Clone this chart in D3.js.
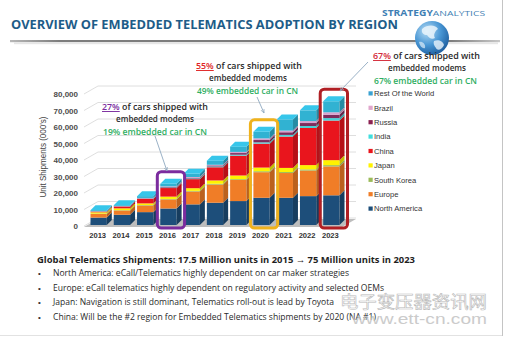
<!DOCTYPE html>
<html>
<head>
<meta charset="utf-8">
<script src="https://cdn.jsdelivr.net/npm/d3@7"></script>
<style>
  body { margin: 0; background: #fff; }
  svg { display: block; }
</style>
</head>
<body>
<svg width="509" height="347"></svg>
<script>
// unit shipments, thousands
const years = ["2013", "2014", "2015", "2016", "2017", "2018", "2019", "2020", "2021", "2022", "2023"];
const regions = ["North America", "Europe", "South Korea", "Japan", "China", "India", "Russia", "Brazil", "Rest Of the World"];
const northAmerica = [4500, 6200, 7800, 10000, 12500, 13500, 14500, 16500, 16500, 17500, 18000];
const europe = [2200, 2600, 4000, 5500, 7800, 11000, 12800, 15500, 15000, 15500, 17500];
const southKorea = [200, 200, 300, 300, 400, 500, 500, 600, 600, 700, 800];
const japan = [800, 1100, 1000, 1400, 1600, 2000, 2200, 2200, 2500, 2600, 3000];
const china = [400, 1100, 2700, 5200, 5500, 8000, 12000, 14500, 19000, 22500, 24000];
const india = [100, 100, 200, 300, 400, 500, 600, 800, 1000, 1200, 1500];
const russia = [100, 100, 200, 400, 500, 600, 1000, 1400, 1600, 1800, 2000];
const brazil = [100, 100, 200, 300, 400, 400, 700, 1000, 1000, 1200, 1500];
const restOfWorld = [600, 500, 1100, 1600, 1900, 2500, 3200, 4000, 6800, 6500, 6700];
const yTicks = [0, 10000, 20000, 30000, 40000, 50000, 60000, 70000, 80000];
const highlights = [
  {year: "2016", color: "#7b2c9e"},
  {year: "2020", color: "#f0b21c"},
  {year: "2023", color: "#b01f24"}
];

const series = [northAmerica, europe, southKorea, japan, china, india, russia, brazil, restOfWorld];
const colors = ["#1d4e7a", "#f07d27", "#9bbb59", "#fff200", "#e9151d", "#48d2d8", "#7c2d5e", "#d8a2cf", "#31b2d2"];
const legendColors = ["#1d4e7a", "#f07d27", "#9bbb59", "#fff200", "#e9151d", "#40dede", "#8b2252", "#e0a6cc", "#3aa2d2"];

const table = years.map((yr, i) => {
  const row = {year: yr};
  regions.forEach((r, k) => row[r] = series[k][i]);
  return row;
});
const stacked = d3.stack().keys(regions)(table);

const svg = d3.select("svg");
const sans = "Liberation Sans, Arial, sans-serif";
const body = "Open Sans, sans-serif";

const x = d3.scaleBand().domain(years).range([87, 343]).paddingInner(0.3).paddingOuter(0.15);
const y = d3.scaleLinear().domain([0, 80000]).range([225, 93]);
const dx = 5, dy = 5;      // bar depth
const wx = 14, wy = 8;     // back wall offset

// frame
svg.append("line").attr("x1", 502.5).attr("x2", 502.5).attr("y1", 0).attr("y2", 336)
  .attr("stroke", "#c4c4c4");
svg.append("line").attr("x1", 0).attr("x2", 502).attr("y1", 335.5).attr("y2", 335.5)
  .attr("stroke", "#e2e2e2");

// header
const defs = svg.append("defs");
const rule = defs.append("linearGradient").attr("id", "rule");
rule.append("stop").attr("offset", "0").attr("stop-color", "#b8b8b8");
rule.append("stop").attr("offset", "0.1").attr("stop-color", "#7d7d7d");
rule.append("stop").attr("offset", "0.9").attr("stop-color", "#7d7d7d");
rule.append("stop").attr("offset", "1").attr("stop-color", "#c8c8c8");
svg.append("rect").attr("x", 10).attr("y", 40).attr("width", 490).attr("height", 2.2)
  .attr("fill", "url(#rule)");
svg.append("rect").attr("x", 14).attr("y", 42.2).attr("width", 484).attr("height", 2)
  .attr("fill", "#e6e6e6");

svg.append("text").attr("x", 11).attr("y", 29)
  .attr("font-family", body).attr("font-weight", 700).attr("font-size", 12.5)
  .attr("fill", "#1d5c88").attr("textLength", 387).attr("lengthAdjust", "spacingAndGlyphs")
  .text("OVERVIEW OF EMBEDDED TELEMATICS ADOPTION BY REGION");

const brand = svg.append("text").attr("x", 382).attr("y", 16)
  .attr("font-family", body).attr("font-size", 8).attr("fill", "#3f7fb4")
  .attr("textLength", 103).attr("lengthAdjust", "spacingAndGlyphs");
brand.append("tspan").attr("font-weight", 700).text("STRATEGY");
brand.append("tspan").attr("font-weight", 400).text("ANALYTICS");

// globe
const globeFill = defs.append("radialGradient").attr("id", "globe").attr("cx", "0.35").attr("cy", "0.3").attr("r", "0.75");
globeFill.append("stop").attr("offset", "0").attr("stop-color", "#b6dcf4");
globeFill.append("stop").attr("offset", "0.55").attr("stop-color", "#4896d4");
globeFill.append("stop").attr("offset", "1").attr("stop-color", "#1d5d9e");
const globe = svg.append("g").attr("transform", "translate(432,38)");
globe.append("circle").attr("r", 17).attr("fill", "url(#globe)");
globe.append("path").attr("d", "M-10,-9 C-4,-14 4,-13 6,-9 C3,-7 1,-3 3,0 C0,2 -3,0 -5,-3 C-8,-3 -11,-5 -10,-9 Z")
  .attr("fill", "#eaf4fb").attr("opacity", 0.85);
globe.append("path").attr("d", "M2,3 C6,1 11,3 12,7 C10,12 5,13 4,10 C2,8 1,5 2,3 Z")
  .attr("fill", "#eaf4fb").attr("opacity", 0.8);
globe.append("path").attr("d", "M-13,4 C-10,3 -6,6 -7,10 C-9,11 -12,9 -13,4 Z")
  .attr("fill", "#eaf4fb").attr("opacity", 0.65);

// back wall gridlines
const grid = svg.append("g");
yTicks.forEach(v => {
  grid.append("path")
    .attr("d", `M84,${y(v) + 1} L${84 + wx},${y(v) + 1 - wy} L356,${y(v) + 1 - wy}`)
    .attr("fill", "none").attr("stroke", "#d6d6d6").attr("stroke-width", 0.8);
});

// floor
svg.append("path")
  .attr("d", `M84,${y(0) + 2} L342,${y(0) + 2} L356,${y(0) + 2 - wy} L98,${y(0) + 2 - wy} Z`)
  .attr("fill", "#bdbdbd");

// y axis
const yAxis = svg.append("g").attr("transform", "translate(78,1)")
  .call(d3.axisLeft(y).tickValues(yTicks).tickSize(0).tickPadding(0).tickFormat(d3.format(",")));
yAxis.select(".domain").remove();
yAxis.selectAll("text").attr("font-family", sans).attr("font-weight", 700)
  .attr("font-size", 8).attr("fill", "#4d4d4d");

svg.append("text").attr("transform", "translate(46,157) rotate(-90)")
  .attr("text-anchor", "middle").attr("font-family", sans).attr("font-size", 9.5)
  .attr("fill", "#444").attr("textLength", 81).attr("lengthAdjust", "spacingAndGlyphs")
  .text("Unit Shipments (000's)");

// x labels
const xAxis = svg.append("g").attr("transform", "translate(-1,233)")
  .call(d3.axisBottom(x).tickSize(0).tickPadding(0));
xAxis.select(".domain").remove();
xAxis.selectAll("text").attr("font-family", sans).attr("font-weight", 700)
  .attr("font-size", 7.6).attr("fill", "#333");

// stacked 3D bars
const bw = x.bandwidth();
const bars = svg.append("g");
stacked.forEach((layer, k) => {
  const c = d3.color(colors[k]);
  layer.forEach((d, i) => {
    const x0 = x(years[i]);
    const yTop = y(d[1]), yBot = y(d[0]);
    const g = bars.append("g");
    g.append("rect").attr("x", x0).attr("y", yTop).attr("width", bw)
      .attr("height", Math.max(0, yBot - yTop)).attr("fill", c);
    g.append("path")
      .attr("d", `M${x0 + bw},${yTop} L${x0 + bw + dx},${yTop - dy} L${x0 + bw + dx},${yBot - dy} L${x0 + bw},${yBot} Z`)
      .attr("fill", c.darker(0.7));
    if (k === regions.length - 1) {
      g.append("path")
        .attr("d", `M${x0},${yTop} L${x0 + dx},${yTop - dy} L${x0 + bw + dx},${yTop - dy} L${x0 + bw},${yTop} Z`)
        .attr("fill", c.brighter(0.3));
    }
  });
});

// highlight frames
highlights.forEach(h => {
  const i = years.indexOf(h.year);
  const total = d3.sum(series, s => s[i]);
  const x0 = x(h.year) - 3;
  const y0 = y(total) - dy - 7;
  svg.append("rect").attr("x", x0).attr("y", y0)
    .attr("width", bw + dx + 6).attr("height", y(0) + 3 - y0)
    .attr("rx", 4).attr("fill", "none").attr("stroke", h.color).attr("stroke-width", 3);
});

// callouts
defs.append("marker").attr("id", "tip").attr("viewBox", "0 0 10 10")
  .attr("refX", 9).attr("refY", 5).attr("markerWidth", 5).attr("markerHeight", 5)
  .attr("orient", "auto")
  .append("path").attr("d", "M0,1 L9,5 L0,9").attr("fill", "none").attr("stroke", "#8ea8c0").attr("stroke-width", 1.5);

const callouts = [
  {pct: "27%", pctColor: "#7b2c9e", cn: "19% embedded car in CN", x: 102, top: 110, w1: 106, w3: 104, mid: 155,
   arrow: [[155, 136], [167, 171]]},
  {pct: "55%", pctColor: "#e02424", cn: "49% embedded car in CN", x: 196, top: 69, w1: 106, w3: 101, mid: 248,
   arrow: [[257, 97], [264, 113]]},
  {pct: "67%", pctColor: "#d42a38", cn: "67% embedded car in CN", x: 373, top: 59, w1: 107, w3: 103, mid: 427,
   arrow: [[368, 62], [340, 91]]}
];
callouts.forEach(c => {
  svg.append("line").attr("x1", c.arrow[0][0]).attr("y1", c.arrow[0][1])
    .attr("x2", c.arrow[1][0]).attr("y2", c.arrow[1][1])
    .attr("stroke", "#8ea8c0").attr("stroke-width", 0.9).attr("marker-end", "url(#tip)");
  const t1 = svg.append("text").attr("x", c.x).attr("y", c.top)
    .attr("font-family", body).attr("font-weight", 600).attr("font-size", 9.5).attr("fill", "#2a2a2a")
    .attr("textLength", c.w1).attr("lengthAdjust", "spacingAndGlyphs");
  t1.append("tspan").attr("fill", c.pctColor).attr("text-decoration", "underline").text(c.pct);
  t1.append("tspan").text(" of cars shipped with");
  svg.append("text").attr("x", c.mid).attr("y", c.top + 12).attr("text-anchor", "middle")
    .attr("font-family", body).attr("font-weight", 600).attr("font-size", 9.5).attr("fill", "#2a2a2a")
    .attr("textLength", 78).attr("lengthAdjust", "spacingAndGlyphs")
    .text("embedded  modems");
  svg.append("text").attr("x", c.x + 1).attr("y", c.top + 24.5)
    .attr("font-family", body).attr("font-weight", 600).attr("font-size", 9).attr("fill", "#2fae62")
    .attr("textLength", c.w3).attr("lengthAdjust", "spacingAndGlyphs")
    .text(c.cn);
});

// legend, top of stack first
const legend = svg.append("g");
regions.slice().reverse().forEach((r, j) => {
  const k = regions.length - 1 - j;
  const cy = 93.5 + j * 14.4;
  legend.append("rect").attr("x", 368.5).attr("y", cy - 2.2).attr("width", 4.2).attr("height", 4.2)
    .attr("fill", legendColors[k]);
  legend.append("text").attr("x", 374).attr("y", cy + 2.7)
    .attr("font-family", sans).attr("font-size", 7.6).attr("fill", "#333").text(r);
});

// notes
svg.append("text").attr("x", 37).attr("y", 262.5)
  .attr("font-family", body).attr("font-weight", 700).attr("font-size", 9.5).attr("fill", "#1f1f1f")
  .attr("textLength", 378).attr("lengthAdjust", "spacingAndGlyphs")
  .text("Global Telematics Shipments: 17.5 Million units in 2015 \u2192 75 Million units in 2023");

const notes = [
  {text: "North America: eCall/Telematics  highly dependent on car maker strategies", w: 296},
  {text: "Europe: eCall telematics highly dependent on regulatory activity and selected OEMs", w: 331},
  {text: "Japan: Navigation is still dominant, Telematics roll-out is lead by Toyota", w: 281},
  {text: "China: Will be the #2 region for  Embedded Telematics shipments by 2020 (NA #1)", w: 323}
];
notes.forEach((n, i) => {
  const by = 276.3 + i * 14.4;
  svg.append("text").attr("x", 38).attr("y", by).attr("font-family", sans)
    .attr("font-size", 8).attr("fill", "#333").text("\u2022");
  svg.append("text").attr("x", 53).attr("y", by)
    .attr("font-family", body).attr("font-size", 8.2).attr("fill", "#2a2a2a")
    .attr("textLength", n.w).attr("lengthAdjust", "spacingAndGlyphs").text(n.text);
});

// site mark
svg.append("text").attr("x", 340).attr("y", 307.5)
  .attr("font-family", "Noto Sans CJK SC, sans-serif").attr("font-size", 17)
  .attr("fill", "none").attr("stroke", "#b9b9b9").attr("stroke-width", 0.6)
  .attr("textLength", 147).attr("lengthAdjust", "spacingAndGlyphs").text("电子变压器资讯网");
svg.append("text").attr("x", 352).attr("y", 324)
  .attr("font-family", sans).attr("font-size", 15.5)
  .attr("fill", "#c6c6c6").attr("opacity", 0.9)
  .attr("textLength", 135).attr("lengthAdjust", "spacingAndGlyphs").text("www.ett-cn.com");
</script>
</body>
</html>
